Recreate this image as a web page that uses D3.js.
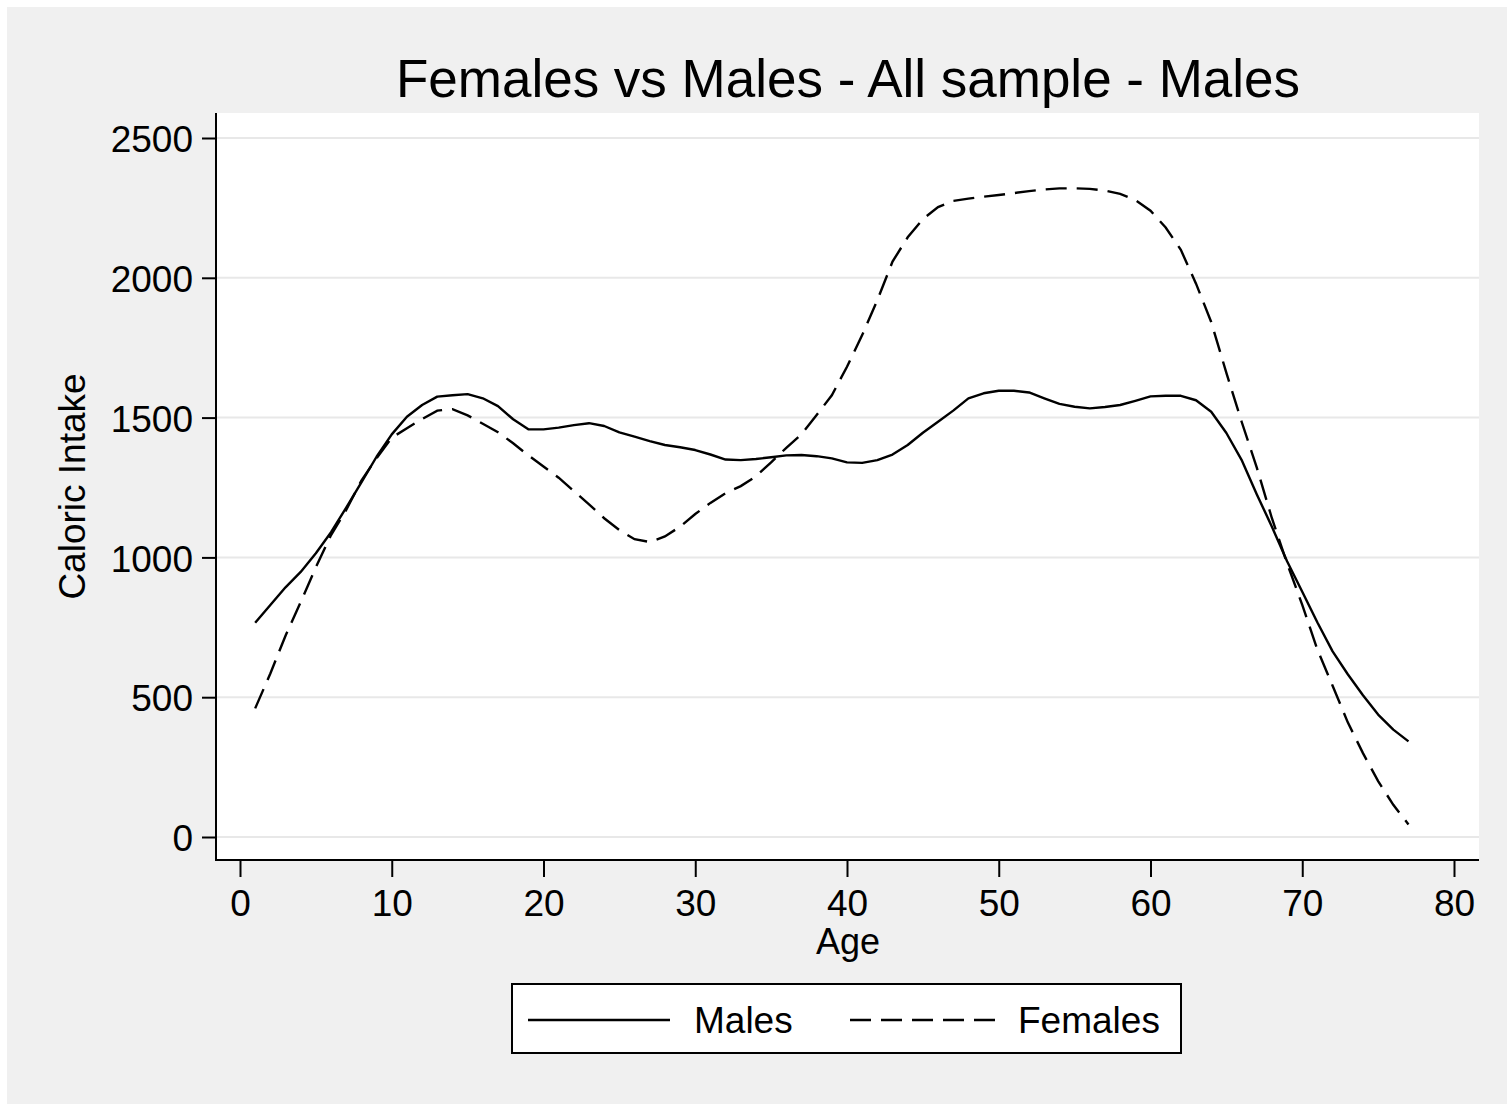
<!DOCTYPE html>
<html>
<head>
<meta charset="utf-8">
<script src="https://cdnjs.cloudflare.com/ajax/libs/d3/7.8.5/d3.min.js"></script>
<style>
  body { margin: 0; background: #ffffff; }
  svg text { font-family: "Liberation Sans", Arial, Helvetica, sans-serif; fill: #000; }
</style>
</head>
<body>
<script>
// ages 1..77
var ages = d3.range(1, 78);
var males = [766, 830, 893, 948, 1015, 1090, 1178, 1268, 1360, 1440,
             1503, 1545, 1575, 1580, 1584, 1569, 1541, 1494, 1458, 1458,
             1464, 1473, 1480, 1470, 1447, 1432, 1416, 1402, 1394, 1384,
             1368, 1350, 1348, 1352, 1358, 1365, 1366, 1362, 1354, 1340,
             1338, 1348, 1368, 1402, 1446, 1485, 1525, 1569, 1587, 1596,
             1596, 1590, 1569, 1549, 1539, 1533, 1538, 1545, 1560, 1576,
             1578, 1578, 1562, 1521, 1445, 1349, 1226, 1110, 986, 877,
             767, 664, 582, 507, 438, 384, 342];
var females = [460, 585, 720, 840, 965, 1080, 1170, 1275, 1355, 1428,
               1462, 1495, 1525, 1530, 1508, 1478, 1448, 1408, 1365, 1325,
               1285, 1237, 1190, 1140, 1098, 1065, 1055, 1075, 1110, 1155,
               1195, 1230, 1255, 1290, 1340, 1392, 1440, 1509, 1580, 1682,
               1795, 1920, 2058, 2145, 2210, 2253, 2275, 2283, 2290, 2296,
               2303, 2310, 2316, 2320, 2320, 2318, 2312, 2300, 2278, 2240,
               2180, 2100, 1979, 1842, 1660, 1486, 1322, 1140, 979, 830,
               670, 541, 410, 300, 200, 115, 45];
var xTicks = [0, 10, 20, 30, 40, 50, 60, 70, 80];
var yTicks = [0, 500, 1000, 1500, 2000, 2500];
var seriesNames = ["Males", "Females"];

var W = 1507, H = 1104;
var plot = {left: 216, right: 1479, top: 113, bottom: 860};
var fontSize = 37;

var svg = d3.select("body").append("svg").attr("width", W).attr("height", H);

svg.append("rect").attr("x", 7).attr("y", 7).attr("width", W - 7).attr("height", H - 7)
    .attr("fill", "#f0f0f0");
svg.append("rect")
    .attr("x", plot.left).attr("y", plot.top)
    .attr("width", plot.right - plot.left).attr("height", plot.bottom - plot.top)
    .attr("fill", "#ffffff");

var x = d3.scaleLinear().domain([0, 80]).range([240, 1454]);
var y = d3.scaleLinear().domain([0, 2500]).range([837, 138]);

// gridlines
svg.append("g").selectAll("line").data(yTicks).enter().append("line")
    .attr("x1", plot.left).attr("x2", plot.right)
    .attr("y1", function(d){ return y(d); }).attr("y2", function(d){ return y(d); })
    .attr("stroke", "#e8e8e8").attr("stroke-width", 2);

var line = d3.line()
    .x(function(d){ return x(d.age); })
    .y(function(d){ return y(d.value); });

var maleData = ages.map(function(a, i){ return {age: a, value: males[i]}; });
var femaleData = ages.map(function(a, i){ return {age: a, value: females[i]}; });

svg.append("path").attr("d", line(maleData))
    .attr("fill", "none").attr("stroke", "#000").attr("stroke-width", 2.4)
    .attr("stroke-linejoin", "round");
svg.append("path").attr("d", line(femaleData))
    .attr("fill", "none").attr("stroke", "#000").attr("stroke-width", 2.4)
    .attr("stroke-dasharray", "21,10");

// axes
var yAxis = svg.append("g")
    .attr("transform", "translate(" + plot.left + ",0)")
    .call(d3.axisLeft(y).tickValues(yTicks).tickFormat(d3.format("d"))
        .tickSize(14).tickPadding(9));
var xAxis = svg.append("g")
    .attr("transform", "translate(0," + plot.bottom + ")")
    .call(d3.axisBottom(x).tickValues(xTicks).tickFormat(d3.format("d"))
        .tickSize(17).tickPadding(13));

[yAxis, xAxis].forEach(function(g){
    g.select(".domain").remove();
    g.selectAll(".tick line").attr("stroke", "#000").attr("stroke-width", 2);
    g.selectAll(".tick text").attr("font-size", fontSize)
        .style("font-family", '"Liberation Sans", Arial, sans-serif').attr("fill", "#000");
});
yAxis.selectAll(".tick text").attr("dy", "0.37em");

svg.append("line").attr("x1", plot.left).attr("x2", plot.left)
    .attr("y1", plot.top).attr("y2", plot.bottom + 1)
    .attr("stroke", "#000").attr("stroke-width", 2);
svg.append("line").attr("x1", plot.left - 1).attr("x2", plot.right)
    .attr("y1", plot.bottom).attr("y2", plot.bottom)
    .attr("stroke", "#000").attr("stroke-width", 2);

// titles
svg.append("text").attr("x", 848).attr("y", 97)
    .attr("text-anchor", "middle").attr("font-size", 53)
    .text("Females vs Males - All sample - Males");
svg.append("text").attr("x", 848).attr("y", 954)
    .attr("text-anchor", "middle").attr("font-size", 36)
    .text("Age");
svg.append("text")
    .attr("transform", "translate(85," + ((plot.top + plot.bottom) / 2) + ") rotate(-90)")
    .attr("text-anchor", "middle").attr("font-size", fontSize)
    .text("Caloric Intake");

// legend
var legend = svg.append("g");
legend.append("rect").attr("x", 512).attr("y", 984).attr("width", 669).attr("height", 69)
    .attr("fill", "#fff").attr("stroke", "#000").attr("stroke-width", 2);
var legendItems = [
    {name: seriesNames[0], x1: 528, x2: 670, tx: 694, dash: null},
    {name: seriesNames[1], x1: 850, x2: 995, tx: 1018, dash: "21,10"}
];
legendItems.forEach(function(d){
    legend.append("line").attr("x1", d.x1).attr("x2", d.x2)
        .attr("y1", 1020).attr("y2", 1020)
        .attr("stroke", "#000").attr("stroke-width", 2.4)
        .attr("stroke-dasharray", d.dash);
    legend.append("text").attr("x", d.tx).attr("y", 1033)
        .attr("font-size", fontSize).text(d.name);
});
</script>
</body>
</html>
